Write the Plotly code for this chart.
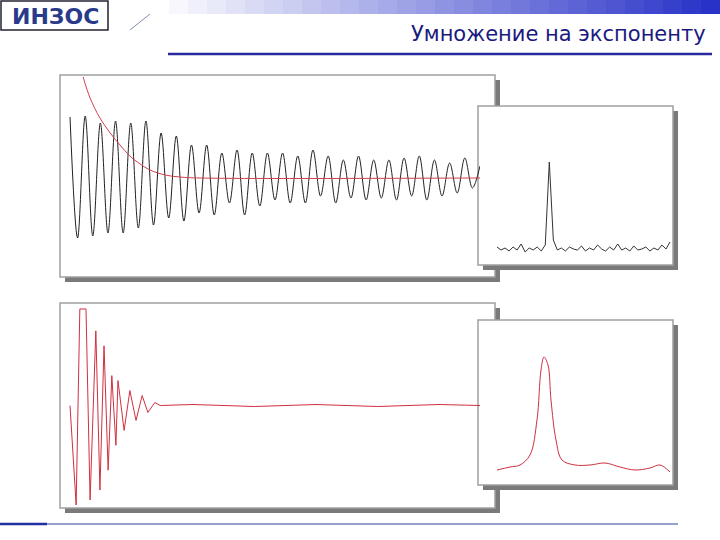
import numpy as np
import plotly.graph_objects as go

W, H = 720, 540
title = "Умножение на экспоненту"
logo_text = "ИНЗОС"

# FID (top): alternating peak / trough amplitudes
fid_extrema = [61, -60, 62, -58, 55, -55, 57, -55, 55, -50, 57, -47, 45, -40, 42, -43,
               33, -35, 33, -37, 25, -25, 28, -37, 25, -28, 25, -22, 25, -25, 22, -25,
               28, -18, 22, -25, 18, -20, 22, -22, 18, -20, 18, -22, 20, -18, 22, -22,
               18, -18, 15, -15, 20, -10, 12]
# exponential weighting function (top)
exp_t = [0.032, 0.049, 0.073, 0.098, 0.122, 0.146, 0.171, 0.195, 0.232, 0.268, 0.317, 1.0]
exp_v = [101, 80, 60, 45, 33, 22, 14, 8, 3, 1, 0, 0]
# spectrum of raw FID (top right)
spec1 = [3, 0, 2, -1, 3, 0, 6, -2, 2, 0, 3, -1, 5, 88, 10, 0, 2, -1, 3, 1, 0, 4, -1, 2,
         0, 5, 1, -1, 3, 0, 6, 0, 2, -1, 4, 0, 1, 3, -1, 2, 0, 5, 1, 8]
# weighted FID (bottom left): extrema then flat
wfid_t = [0.0, 0.015, 0.024, 0.039, 0.049, 0.063, 0.073, 0.083, 0.093, 0.102, 0.112,
          0.117, 0.132, 0.146, 0.161, 0.176, 0.190, 0.207, 0.220, 0.30, 0.45, 0.6, 0.75, 0.9, 1.0]
wfid_v = [0, -100, 97, 97, -95, 75, -85, 60, -65, 30, -40, 25, -25, 15, -15, 10, -7, 3, 0,
          1, -1, 1, -1, 1, 0]
# spectrum of weighted FID (bottom right)
spec2_x = [497, 510, 520, 530, 537, 541, 544, 548, 551, 556, 562, 575, 590, 605, 620, 635, 650, 660, 670]
spec2_v = [0, 3, 5, 15, 50, 100, 113, 105, 70, 30, 10, 5, 5, 7, 3, 0, 2, 5, -2]

fig = go.Figure()
shapes = []

def px(x): return x / W
def py(y): return 1 - y / H

def panel(x0, y0, x1, y1):
    shapes.append(dict(type="rect", xref="paper", yref="paper", layer="below",
                       x0=px(x0 + 5), x1=px(x1 + 5), y0=py(y1 + 5), y1=py(y0 + 5),
                       fillcolor="#7a7a7a", line=dict(width=0)))
    shapes.append(dict(type="rect", xref="paper", yref="paper", layer="below",
                       x0=px(x0), x1=px(x1), y0=py(y1), y1=py(y0),
                       fillcolor="white", line=dict(color="#a0a0a0", width=1.5)))

panel(60, 75, 495, 277)
panel(478, 106, 673, 265)
panel(60, 303, 495, 508)
panel(478, 320, 673, 485)

def ax(i, x0, x1, y0, y1, xr, yr):
    common = dict(showgrid=False, zeroline=False, showticklabels=False, ticks="", showline=False)
    fig.layout[f"xaxis{i}"] = dict(domain=[px(x0), px(x1)], range=xr, anchor=f"y{i}", **common)
    fig.layout[f"yaxis{i}"] = dict(domain=[py(y1), py(y0)], range=yr, anchor=f"x{i}", **common)

a = 1.0 / 410
ax(1, 62, 480, 77, 277, [-8 * a, 410 * a], [-99, 101])
t1 = np.linspace(0, 1, len(fid_extrema))
fig.add_trace(go.Scatter(x=t1, y=fid_extrema, mode="lines", line=dict(color="#222", width=1, shape="spline"),
                         xaxis="x1", yaxis="y1"))
fig.add_trace(go.Scatter(x=exp_t, y=exp_v, mode="lines", line=dict(color="#d04050", width=1, shape="spline"),
                         xaxis="x1", yaxis="y1"))
ax(2, 480, 671, 108, 263, [0, 1], [-13, 142])
fig.add_trace(go.Scatter(x=np.linspace(17 / 191, 190 / 191, len(spec1)), y=spec1, mode="lines",
                         line=dict(color="#333", width=1), xaxis="x2", yaxis="y2"))
ax(3, 62, 480, 305, 506, [-8 * a, 410 * a], [-101, 101])
fig.add_trace(go.Scatter(x=wfid_t, y=wfid_v, mode="lines", line=dict(color="#d03040", width=1),
                         xaxis="x3", yaxis="y3"))
ax(4, 480, 671, 322, 483, [480, 671], [-13, 148])
fig.add_trace(go.Scatter(x=spec2_x, y=spec2_v, mode="lines", line=dict(color="#d03040", width=1, shape="spline"),
                         xaxis="x4", yaxis="y4"))

n = 30
for k in range(n):
    f = k / (n - 1)
    r = int(255 - f * (255 - 40)); g = int(255 - f * (255 - 50)); b = int(255 - f * (255 - 200))
    shapes.append(dict(type="rect", xref="paper", yref="paper", layer="below",
                       x0=px(150 + k * 570 / n), x1=px(150 + (k + 1) * 570 / n + 1), y0=py(14), y1=py(0),
                       fillcolor=f"rgb({r},{g},{b})", line=dict(width=0)))
shapes.append(dict(type="line", xref="paper", yref="paper", x0=px(150), x1=px(130), y0=py(14), y1=py(30),
                   line=dict(color="#8090b0", width=1)))
shapes.append(dict(type="rect", xref="paper", yref="paper", x0=px(1), x1=px(108), y0=py(30), y1=py(1),
                   line=dict(color="#223", width=1.5), fillcolor="white"))
shapes.append(dict(type="line", xref="paper", yref="paper", x0=px(168), x1=px(712), y0=py(54), y1=py(54),
                   line=dict(color="#2a2aa0", width=2.5)))
shapes.append(dict(type="line", xref="paper", yref="paper", x0=px(0), x1=px(678), y0=py(524), y1=py(524),
                   line=dict(color="#3040a0", width=1)))
shapes.append(dict(type="line", xref="paper", yref="paper", x0=px(0), x1=px(47), y0=py(524), y1=py(524),
                   line=dict(color="#2030a0", width=2.5)))

annotations = [
    dict(text="<b>" + logo_text + "</b>", xref="paper", yref="paper", x=px(55), y=py(16), showarrow=False,
         font=dict(family="DejaVu Sans", size=22, color="#2a3a8a"), xanchor="center", yanchor="middle"),
    dict(text=title, xref="paper", yref="paper", x=px(708), y=py(34), showarrow=False,
         font=dict(family="DejaVu Sans", size=21, color="#1a1a80"), xanchor="right", yanchor="middle"),
]

fig.update_layout(width=W, height=H, margin=dict(l=0, r=0, t=0, b=0), showlegend=False,
                  paper_bgcolor="white", plot_bgcolor="rgba(0,0,0,0)",
                  shapes=shapes, annotations=annotations)
fig.write_html("out.html", config={"displayModeBar": False},
               post_script="document.body.style.margin='0';document.body.style.overflow='hidden';")
